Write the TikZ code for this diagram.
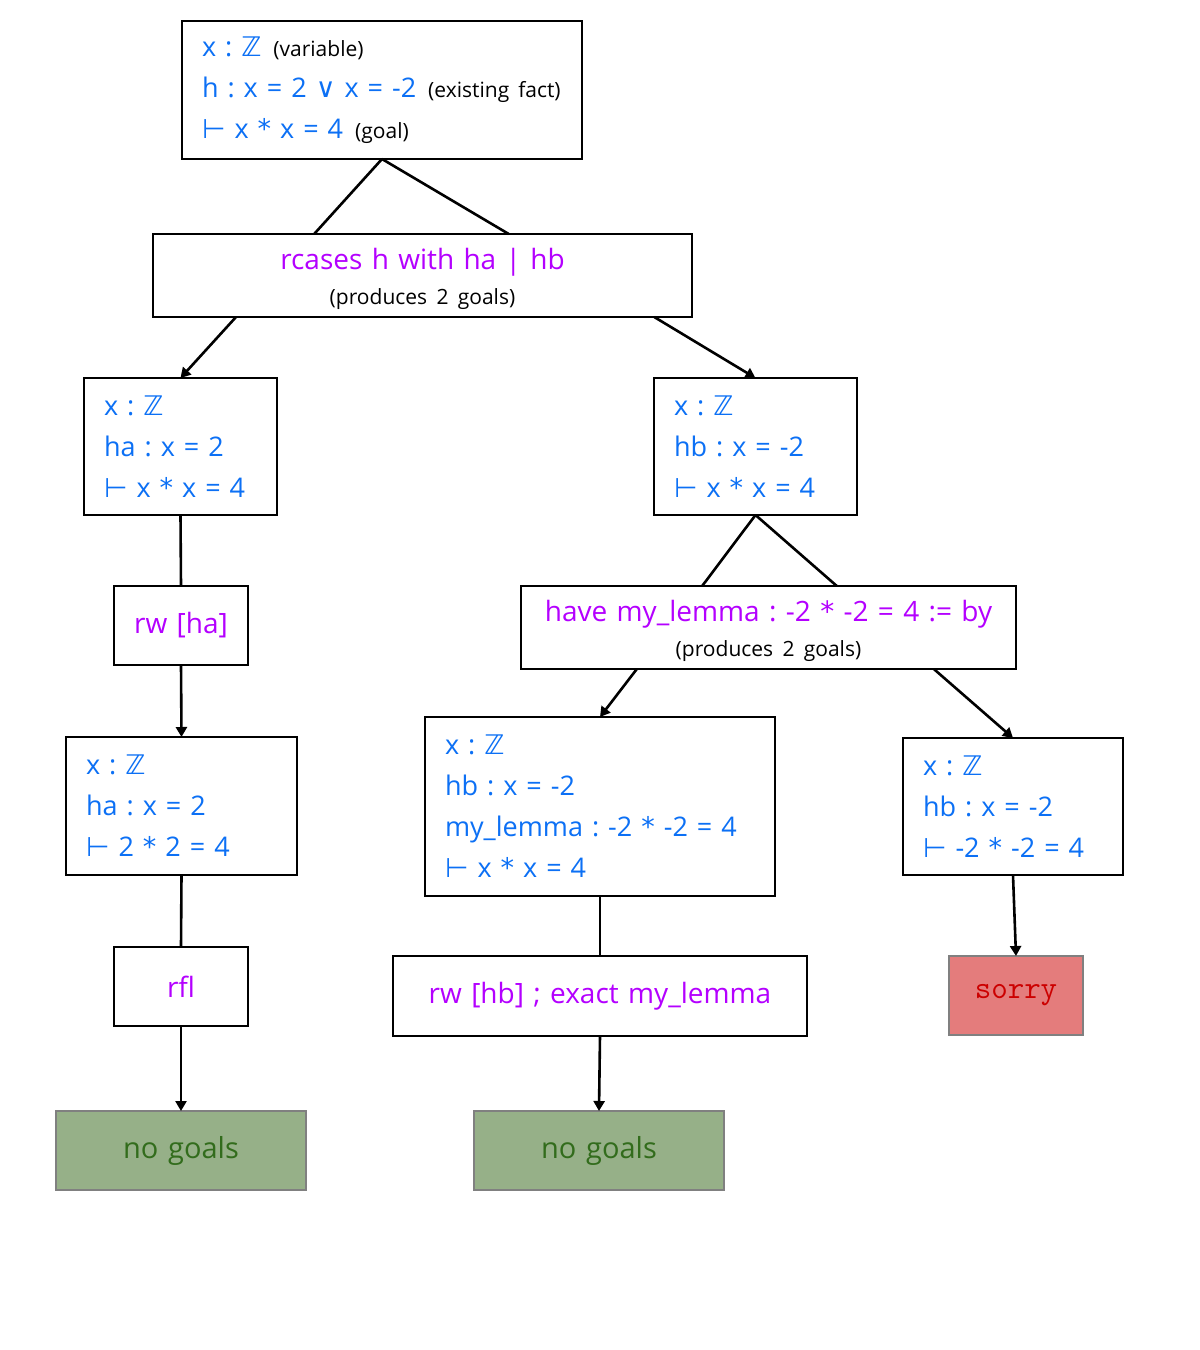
\documentclass[tikz,border=0pt]{standalone}
\usepackage{fontspec}
\setmainfont{Open Sans}[WordSpace=0.8]
\newfontfamily\symf{DejaVu Sans}
\usetikzlibrary{arrows.meta,calc}
\frenchspacing
\definecolor{tblue}{RGB}{12,112,245}
\definecolor{tpurple}{RGB}{180,0,255}
\definecolor{ggreen}{RGB}{150,176,136}
\definecolor{gtext}{RGB}{50,108,28}
\definecolor{sred}{RGB}{228,124,124}
\definecolor{stext}{RGB}{204,0,0}
\definecolor{gborder}{RGB}{128,128,128}
\newcommand\Zs{{\symf ℤ}}
\newcommand\Ts{{\symf ⊢}}
\newcommand\Os{{\symf ∨}}
\newcommand\Ast{{\symf *}}
\newcommand\Ln[1]{\mbox{#1}}
\newcommand\TallLn[1]{\raisebox{0pt}[29pt][\depth]{#1}}
\newcommand\smalltxt[1]{{\fontsize{21}{26}\selectfont\color{black}#1}}
\tikzset{
  box/.style={draw=black, line width=1.7pt, rectangle, anchor=north west, outer sep=0pt,
    inner xsep=20pt, inner ysep=0pt, fill=white},
  lbox/.style={box, align=left, text=tblue, font=\fontsize{27}{41}\selectfont},
  cbox/.style={box, align=center, text=tpurple, font=\fontsize{28}{35}\selectfont},
  goalbox/.style={draw=gborder, line width=2.8pt, fill=ggreen, text=gtext, anchor=north west,
    outer sep=0pt, inner sep=0pt, align=center, font=\fontsize{29}{34}\selectfont,
    minimum width=250, minimum height=79, text width=210},
  sorrybox/.style={draw=gborder, line width=2.8pt, fill=sred, text=stext, anchor=north west,
    outer sep=0pt, inner sep=0pt, align=center, font=\ttfamily\fontsize{32}{34}\selectfont,
    minimum width=134, minimum height=79, text width=120},
  conn/.style={line width=2.6pt, black},
  arr/.style={conn, -{Triangle[length=10pt,width=11pt]}}
}
\begin{document}
\begin{tikzpicture}[x=1pt,y=-1pt]
\useasboundingbox (0,0) rectangle (1200,1350);
% boxes
\node[lbox, minimum width=400, minimum height=138, text width=360] (top) at (182,21)
  {\Ln{x : \Zs\hspace{12pt}\smalltxt{(variable)}}\\
   \Ln{h : x = 2 \Os{} x = -2\hspace{12pt}\smalltxt{(existing fact)}}\\
   \Ln{\Ts{} x \Ast{} x = 4\hspace{12pt}\smalltxt{(goal)}}};
\node[cbox, minimum width=539, minimum height=83, text width=499] (rc) at (153,234)
  {\TallLn{rcases h with ha | hb}\\\smalltxt{(produces 2 goals)}};
\node[lbox, minimum width=193, minimum height=137, text width=153] (a1) at (84,378)
  {\Ln{x : \Zs}\\\Ln{ha : x = 2}\\\Ln{\Ts{} x \Ast{} x = 4}};
\node[lbox, minimum width=203, minimum height=137, text width=163] (b1) at (654,378)
  {\Ln{x : \Zs}\\\Ln{hb : x = -2}\\\Ln{\Ts{} x \Ast{} x = 4}};
\node[cbox, minimum width=134, minimum height=79, text width=94] (rwa) at (114,586)
  {\Ln{rw [ha]}};
\node[cbox, minimum width=495, minimum height=83, text width=455] (hv) at (521,586)
  {\TallLn{have my\_lemma : -2 \Ast{} -2 = 4 := by}\\\smalltxt{(produces 2 goals)}};
\node[lbox, minimum width=231, minimum height=138, text width=191] (a2) at (66,737)
  {\Ln{x : \Zs}\\\Ln{ha : x = 2}\\\Ln{\Ts{} 2 \Ast{} 2 = 4}};
\node[lbox, minimum width=350, minimum height=179, text width=310] (c1) at (425,717)
  {\Ln{x : \Zs}\\\Ln{hb : x = -2}\\\Ln{my\_lemma : -2 \Ast{} -2 = 4}\\\Ln{\Ts{} x \Ast{} x = 4}};
\node[lbox, minimum width=220, minimum height=137, text width=180] (d1) at (903,738)
  {\Ln{x : \Zs}\\\Ln{hb : x = -2}\\\Ln{\Ts{} -2 \Ast{} -2 = 4}};
\node[cbox, minimum width=134, minimum height=79, text width=94] (rfl) at (114,947)
  {rfl};
\node[cbox, minimum width=414, minimum height=80, text width=374] (rwb) at (393,956)
  {\Ln{rw [hb] ; exact my\_lemma}};
\node[sorrybox] (sorry) at (949,956) {sorry};
\node[goalbox] (ng1) at (56,1111) {no goals};
\node[goalbox] (ng2) at (474,1111) {no goals};
% connectors
\draw[conn] (top.south) -- ($(rc.north west)!0.299!(rc.north east)$);
\draw[conn] (top.south) -- ($(rc.north west)!0.66!(rc.north east)$);
\draw[arr] ($(rc.south west)!0.154!(rc.south east)$) -- (a1.north);
\draw[arr] ($(rc.south west)!0.93!(rc.south east)$) -- (b1.north);
\draw[conn] (a1.south) -- (rwa.north);
\draw[arr] (rwa.south) -- (a2.north);
\draw[conn] (a2.south) -- (rfl.north);
\draw[arr] (rfl.south) -- (ng1.north);
\draw[conn] (b1.south) -- ($(hv.north west)!0.366!(hv.north east)$);
\draw[conn] (b1.south) -- ($(hv.north west)!0.638!(hv.north east)$);
\draw[arr] ($(hv.south west)!0.234!(hv.south east)$) -- (c1.north);
\draw[arr] ($(hv.south west)!0.834!(hv.south east)$) -- (d1.north);
\draw[conn] (c1.south) -- (rwb.north);
\draw[arr] (rwb.south) -- (ng2.north);
\draw[arr] (d1.south) -- (sorry.north);
\end{tikzpicture}
\end{document}
